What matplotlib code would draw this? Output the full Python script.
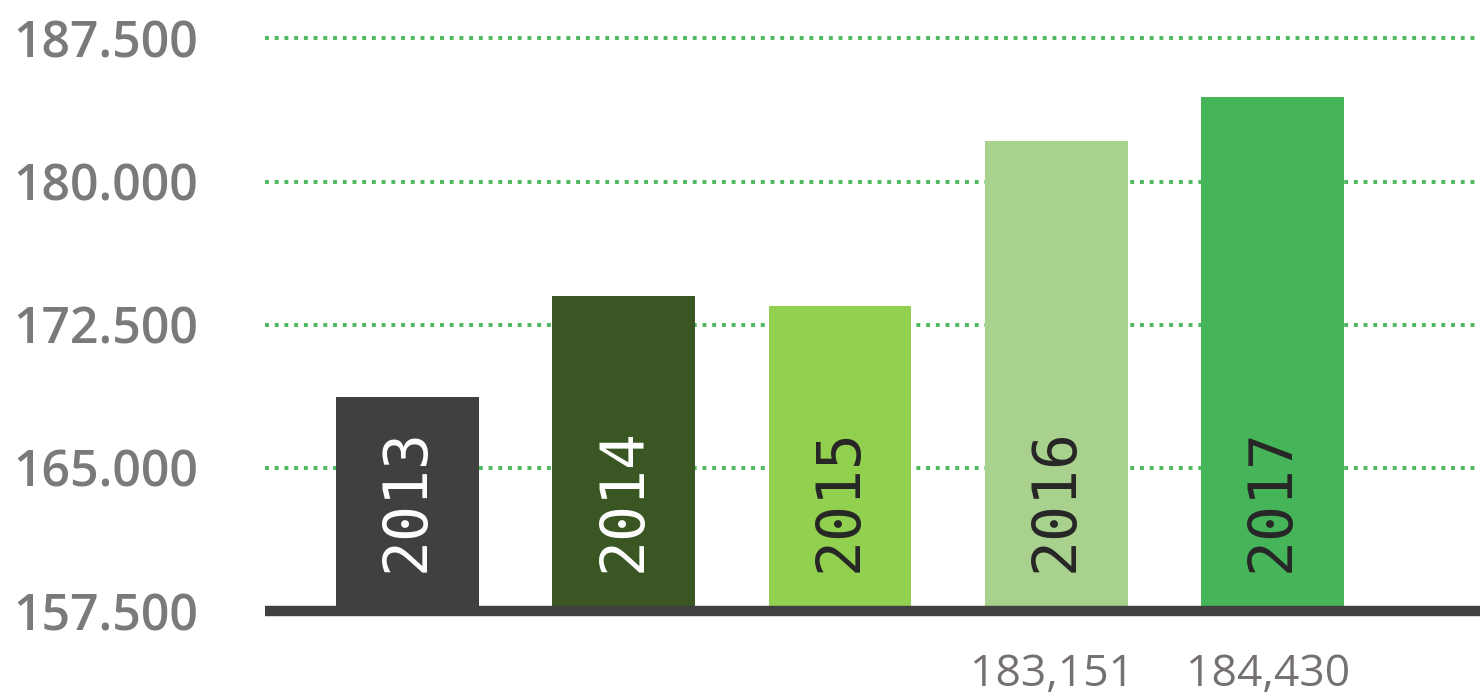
import matplotlib
matplotlib.use("Agg")
import matplotlib.pyplot as plt
from matplotlib.ticker import FuncFormatter

years = ['2013', '2014', '2015', '2016', '2017']
values = [168700, 174000, 173500, 182150, 184450]
bar_colors = ['#404040', '#3a5622', '#92d050', '#a9d18e', '#46b55a']
year_text_colors = ['white', 'white', '#262626', '#262626', '#262626']
bottom_labels = ['', '', '', '183,151', '184,430']
yticks = [157500, 165000, 172500, 180000, 187500]

fig = plt.figure(figsize=(14.8, 7), dpi=100)
ax = fig.add_axes([0.179, 0.127, 0.821, 0.844])

x = list(range(len(years)))
ax.bar(x, values, width=0.66, bottom=0, color=bar_colors, zorder=3)

ax.set_xlim(-0.66, 4.96)
ax.set_ylim(157500, 188450)

# dotted green grid lines
for yv in yticks[1:]:
    ax.axhline(yv, color='#4cb85c', linewidth=2.8, linestyle=(0, (1, 1.5)),
               dash_capstyle='butt', zorder=1)

# thick dark base line
ax.axhline(157500, color='#404040', linewidth=7.5, zorder=4, clip_on=False,
           solid_capstyle='butt')

# rotated year labels inside bars
for i, yr in enumerate(years):
    ax.text(i, 163300, yr, rotation=90, ha='center', va='center',
            color=year_text_colors[i], fontsize=43,
            family='DejaVu Sans Mono', zorder=5)

# value labels under the axis
for i, lab in enumerate(bottom_labels):
    if lab:
        ax.text(i - 0.02, 154150, lab, ha='center', va='center',
                color='#767171', fontsize=32, family='Open Sans', clip_on=False)

ax.set_yticks(yticks)
ax.yaxis.set_major_formatter(FuncFormatter(lambda v, p: f'{int(v):,}'.replace(',', '.')))
for lbl in ax.get_yticklabels():
    lbl.set_family('Open Sans')
    lbl.set_fontweight('semibold')
    lbl.set_fontsize(36)
    lbl.set_color('#7a7a7a')
ax.tick_params(axis='y', length=0, pad=48)
ax.set_xticks([])

for s in ax.spines.values():
    s.set_visible(False)

fig.savefig('out.png', dpi=100)
